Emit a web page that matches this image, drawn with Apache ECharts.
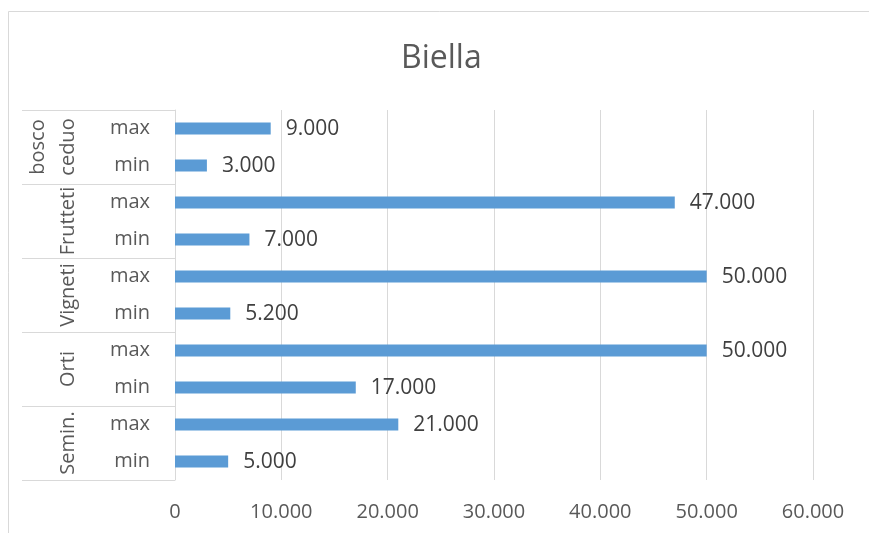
<!DOCTYPE html>
<html>
<head>
<meta charset="utf-8">
<script src="https://cdn.jsdelivr.net/npm/echarts@6/dist/echarts.min.js"></script>
<style>
html,body{margin:0;padding:0;background:#fff;}
#chart{width:869px;height:533px;}
</style>
</head>
<body>
<div id="chart"></div>
<script>
var title = 'Biella';
var groups = ['bosco\nceduo', 'Frutteti', 'Vigneti', 'Orti', 'Semin.'];
var levels = ['max', 'min', 'max', 'min', 'max', 'min', 'max', 'min', 'max', 'min'];
var values = [9000, 3000, 47000, 7000, 50000, 5200, 50000, 17000, 21000, 5000];
var xTicks = [0, 10000, 20000, 30000, 40000, 50000, 60000];

function fmt(v) {
  return String(Math.round(v)).replace(/\B(?=(\d{3})+(?!\d))/g, '.');
}

var FONT = '"Open Sans", "Noto Sans", sans-serif';
var chart = echarts.init(document.getElementById('chart'), null, {renderer: 'canvas'});
chart.setOption({
  animation: false,
  backgroundColor: '#ffffff',
  graphic: [{
    type: 'rect',
    shape: {x: 8.5, y: 11.5, width: 900, height: 600},
    style: {fill: 'none', stroke: '#d9d9d9', lineWidth: 1},
    silent: true, z: -10
  }],
  title: {
    text: title,
    left: 401,
    top: 43,
    padding: 0,
    textStyle: {fontFamily: FONT, fontSize: 32, fontWeight: 'normal', color: '#595959'}
  },
  grid: {left: 175, right: 56, top: 110, bottom: 53, containLabel: false},
  xAxis: {
    type: 'value',
    min: xTicks[0],
    max: xTicks[xTicks.length - 1],
    interval: xTicks[1] - xTicks[0],
    axisLine: {show: false},
    axisTick: {show: false},
    splitLine: {show: true, lineStyle: {color: '#d9d9d9', width: 1}},
    axisLabel: {
      margin: 22,
      fontFamily: FONT, fontSize: 20, color: '#595959',
      formatter: function (v) { return fmt(v); }
    }
  },
  yAxis: [{
    type: 'category',
    data: levels,
    inverse: true,
    position: 'left',
    axisLine: {show: true, lineStyle: {color: '#d9d9d9', width: 1}},
    axisTick: {show: false},
    axisLabel: {
      interval: 0,
      margin: 25,
      align: 'right',
      fontFamily: FONT, fontSize: 20, color: '#595959'
    }
  }, {
    type: 'category',
    data: groups,
    inverse: true,
    position: 'left',
    axisLine: {show: false},
    axisTick: {show: true, interval: 0, length: 153, lineStyle: {color: '#d9d9d9', width: 1}},
    axisLabel: {
      interval: 0,
      margin: 92,
      rotate: 90,
      align: 'center',
      verticalAlign: 'bottom',
      lineHeight: 30,
      fontFamily: FONT, fontSize: 20, color: '#595959'
    }
  }],
  series: [{
    type: 'bar',
    yAxisIndex: 0,
    data: values,
    barWidth: 12,
    itemStyle: {color: '#5B9BD5'},
    label: {
      show: true,
      position: 'right',
      distance: 15,
      offset: [0, 1],
      fontFamily: FONT, fontSize: 21, color: '#404040',
      formatter: function (p) { return fmt(p.value); }
    }
  }]
});
</script>
</body>
</html>
